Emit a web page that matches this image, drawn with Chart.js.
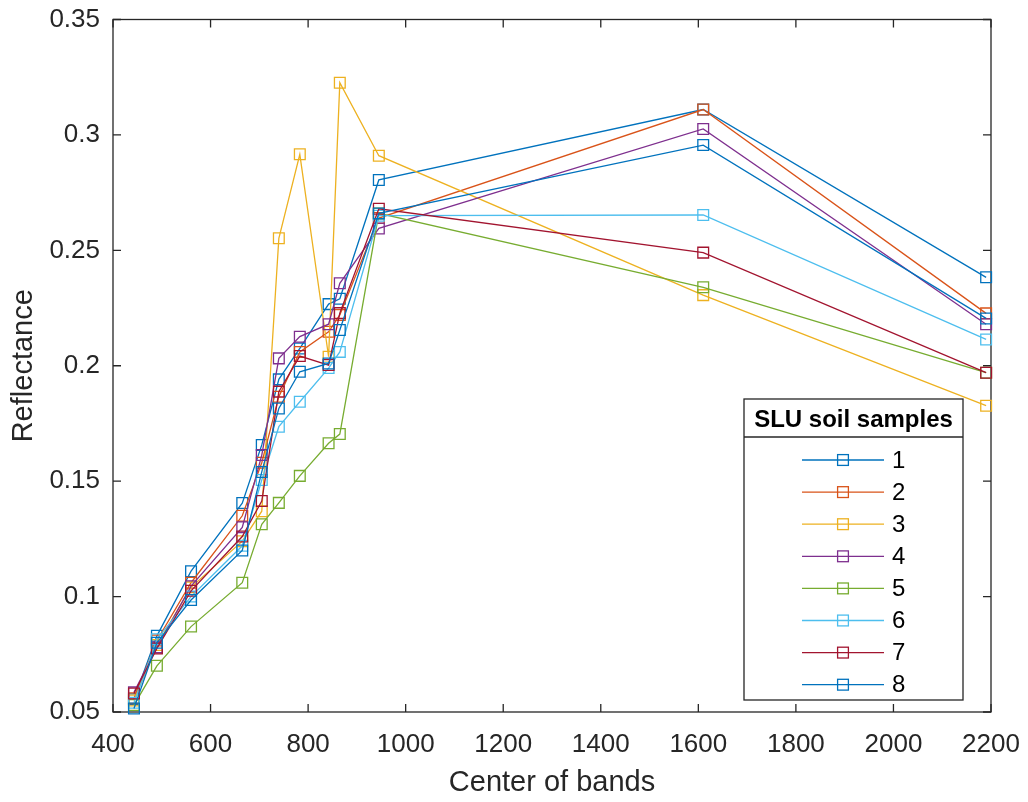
<!DOCTYPE html>
<html>
<head>
<meta charset="utf-8">
<script src="https://cdn.jsdelivr.net/npm/chart.js@4/dist/chart.umd.min.js"></script>
<style>
  html, body { margin: 0; padding: 0; background: #ffffff; }
  #wrap { width: 1028px; height: 802px; }
</style>
</head>
<body>
<div id="wrap"><canvas id="c" width="1028" height="802"></canvas></div>
<script>
// Sentinel-2 band centres (nm)
const bands = [443, 490, 560, 665, 705, 740, 783, 842, 865, 945, 1610, 2190];

// Reflectance per soil sample
const sample1 = [0.0555, 0.083, 0.111, 0.1405, 0.1657, 0.1941, 0.2075, 0.2267, 0.229, 0.2805, 0.311, 0.2383];
const sample2 = [0.056, 0.081, 0.106, 0.135, 0.158, 0.1866, 0.206, 0.2147, 0.222, 0.264, 0.311, 0.2227];
const sample3 = [0.055, 0.079, 0.104, 0.124, 0.137, 0.2552, 0.2916, 0.2039, 0.3226, 0.291, 0.2306, 0.1827];
const sample4 = [0.0585, 0.078, 0.1045, 0.130, 0.1613, 0.2032, 0.2126, 0.218, 0.2357, 0.2595, 0.3026, 0.218];
const sample5 = [0.053, 0.070, 0.087, 0.106, 0.1313, 0.1406, 0.1523, 0.1664, 0.1704, 0.266, 0.234, 0.197];
const sample6 = [0.054, 0.0815, 0.100, 0.122, 0.1505, 0.1736, 0.1844, 0.199, 0.206, 0.265, 0.2653, 0.2114];
const sample7 = [0.058, 0.0775, 0.1025, 0.126, 0.1414, 0.1888, 0.2042, 0.2003, 0.2228, 0.268, 0.249, 0.197];
const sample8 = [0.0515, 0.080, 0.0985, 0.120, 0.154, 0.1815, 0.1974, 0.201, 0.2155, 0.266, 0.2956, 0.2205];

const sampleSeries = [sample1, sample2, sample3, sample4, sample5, sample6, sample7, sample8];
const sampleNames = ['1', '2', '3', '4', '5', '6', '7', '8'];
const sampleColors = ['#0072BD', '#D95319', '#EDB120', '#7E2F8E', '#77AC30', '#4DBEEE', '#A2142F', '#0072BD'];

const xTicks = [400, 600, 800, 1000, 1200, 1400, 1600, 1800, 2000, 2200];
const yTicks = [0.05, 0.1, 0.15, 0.2, 0.25, 0.3, 0.35];

const xLabel = 'Center of bands';
const yLabel = 'Reflectance';
const legendTitle = 'SLU soil samples';

const FONT = '"Liberation Sans", Arial, Helvetica, sans-serif';
const AXIS_COLOR = '#262626';

const datasets = sampleSeries.map((vals, i) => ({
  label: sampleNames[i],
  data: bands.map((b, j) => ({ x: b, y: vals[j] })),
  borderColor: sampleColors[i],
  backgroundColor: 'rgba(0,0,0,0)',
  borderWidth: 1.3,
  pointStyle: 'rect',
  pointRadius: 7.6,
  pointBorderWidth: 1.3,
  pointBorderColor: sampleColors[i],
  pointBackgroundColor: 'rgba(0,0,0,0)',
  tension: 0,
  clip: false,
  order: sampleSeries.length - i
}));

// Axes box with inward-pointing ticks on all four sides
const framePlugin = {
  id: 'frame',
  beforeDatasetsDraw(chart) {
    const { ctx, chartArea: a, scales: { x, y } } = chart;
    const len = 8;
    ctx.save();
    ctx.strokeStyle = AXIS_COLOR;
    ctx.lineWidth = 1.3;
    ctx.strokeRect(a.left, a.top, a.right - a.left, a.bottom - a.top);
    ctx.beginPath();
    x.ticks.forEach(t => {
      const px = x.getPixelForValue(t.value);
      ctx.moveTo(px, a.bottom); ctx.lineTo(px, a.bottom - len);
      ctx.moveTo(px, a.top); ctx.lineTo(px, a.top + len);
    });
    y.ticks.forEach(t => {
      const py = y.getPixelForValue(t.value);
      ctx.moveTo(a.left, py); ctx.lineTo(a.left + len, py);
      ctx.moveTo(a.right, py); ctx.lineTo(a.right - len, py);
    });
    ctx.stroke();
    ctx.restore();
  }
};

// Boxed legend with a title row, in the lower-right corner of the axes
const boxLegendPlugin = {
  id: 'boxLegend',
  afterDraw(chart) {
    const { ctx, chartArea: a } = chart;
    const w = 219, h = 301;
    const right = a.right - 28, bottom = a.bottom - 12;
    const left = right - w, top = bottom - h;
    ctx.save();
    ctx.fillStyle = '#ffffff';
    ctx.fillRect(left, top, w, h);
    ctx.strokeStyle = AXIS_COLOR;
    ctx.lineWidth = 1.3;
    ctx.strokeRect(left, top, w, h);
    ctx.beginPath();
    ctx.moveTo(left, top + 38); ctx.lineTo(right, top + 38);
    ctx.stroke();

    ctx.fillStyle = '#000000';
    ctx.font = 'bold 24px ' + FONT;
    ctx.textAlign = 'center';
    ctx.textBaseline = 'middle';
    ctx.fillText(legendTitle, left + w / 2, top + 21);

    ctx.font = '24px ' + FONT;
    ctx.textAlign = 'left';
    chart.data.datasets.forEach((ds, i) => {
      const cy = top + 61 + i * 32.1;
      ctx.strokeStyle = ds.borderColor;
      ctx.lineWidth = 1.3;
      ctx.beginPath();
      ctx.moveTo(left + 58, cy); ctx.lineTo(left + 140, cy);
      ctx.stroke();
      ctx.strokeRect(left + 99 - 5.4, cy - 5.4, 10.8, 10.8);
      ctx.fillStyle = '#000000';
      ctx.fillText(ds.label, left + 148, cy + 1);
    });
    ctx.restore();
  }
};

new Chart(document.getElementById('c'), {
  type: 'line',
  data: { datasets },
  plugins: [framePlugin, boxLegendPlugin],
  options: {
    responsive: false,
    animation: false,
    devicePixelRatio: 1,
    layout: { padding: { left: 0, top: 19.5, right: 37, bottom: 0 } },
    plugins: {
      legend: { display: false },
      tooltip: { enabled: false }
    },
    scales: {
      x: {
        type: 'linear',
        min: 400,
        max: 2200,
        afterBuildTicks: s => { s.ticks = xTicks.map(v => ({ value: v })); },
        afterFit: s => { s.height = 90; s.paddingLeft = 0; s.paddingRight = 0; },
        grid: { display: false, drawTicks: false },
        border: { display: false },
        ticks: {
          padding: 17,
          autoSkip: false,
          maxRotation: 0,
          color: AXIS_COLOR,
          font: { family: FONT, size: 26 },
          callback: v => String(v)
        },
        title: {
          display: true,
          text: xLabel,
          color: AXIS_COLOR,
          font: { family: FONT, size: 29 },
          padding: { top: 0, bottom: 2 }
        }
      },
      y: {
        type: 'linear',
        min: 0.05,
        max: 0.35,
        afterBuildTicks: s => { s.ticks = yTicks.map(v => ({ value: v })); },
        afterFit: s => { s.width = 113; s.paddingTop = 0; s.paddingBottom = 0; },
        grid: { display: false, drawTicks: false },
        border: { display: false },
        ticks: {
          padding: 13,
          autoSkip: false,
          color: AXIS_COLOR,
          font: { family: FONT, size: 26 },
          callback: v => String(+Number(v).toFixed(2))
        },
        title: {
          display: true,
          text: yLabel,
          color: AXIS_COLOR,
          font: { family: FONT, size: 29 },
          padding: { top: 7, bottom: 0 }
        }
      }
    }
  }
});
</script>
</body>
</html>
